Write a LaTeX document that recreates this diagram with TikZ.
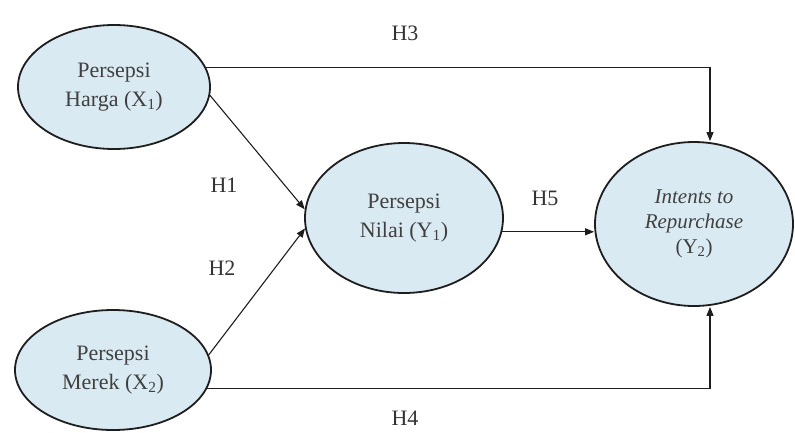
\documentclass[tikz,border=0pt]{standalone}
\usepackage{fontspec}
\setmainfont{Liberation Serif}
\usetikzlibrary{shapes.geometric,arrows.meta,calc}
\definecolor{ellfill}{RGB}{218,234,242}
\definecolor{ink}{RGB}{30,30,30}
\begin{document}
\begin{tikzpicture}[x=1pt,y=-1pt,
  construct/.style={ellipse,draw=ink,line width=1.8pt,fill=ellfill,inner sep=0pt,
    align=center,font=\fontsize{22}{29}\selectfont,text=black!75},
  arr/.style={draw=ink,line width=1.1pt,-{Triangle[length=9pt,width=7pt]}},
  hlabel/.style={font=\fontsize{22}{25}\selectfont,text=black!80}]
\useasboundingbox (0,0) rectangle (795,432);
\node[construct,minimum width=192pt,minimum height=124pt] (harga) at (114,87) {Persepsi\\Harga (X\textsubscript{1})};
\node[construct,minimum width=196pt,minimum height=120pt] (merek) at (113,370) {Persepsi\\Merek (X\textsubscript{2})};
\node[construct,minimum width=198pt,minimum height=150pt] (nilai) at (404,218) {Persepsi\\Nilai (Y\textsubscript{1})};
\node[construct,minimum width=198pt,minimum height=164pt,font=\fontsize{21}{25}\selectfont] (rep) at (694,224) {\textit{Intents to}\\\textit{Repurchase}\\(Y\textsubscript{2})};
\draw[arr] (harga.12) -| ([xshift=16pt]rep.north);
\draw[arr] (merek.349) -| ([xshift=16pt]rep.south);
\draw[arr] (harga.355) -- (nilai.175);
\draw[arr] (merek.9) -- (nilai.186);
\draw[arr] (nilai.352) -- (nilai.352 -| rep.west);
\node[hlabel] (h3) at (405,33) {H3};
\node[hlabel] (h4) at (405,418) {H4};
\node[hlabel] (h1) at (224,185) {H1};
\node[hlabel] (h2) at (222,268) {H2};
\node[hlabel] (h5) at (545,198) {H5};
\end{tikzpicture}
\end{document}
